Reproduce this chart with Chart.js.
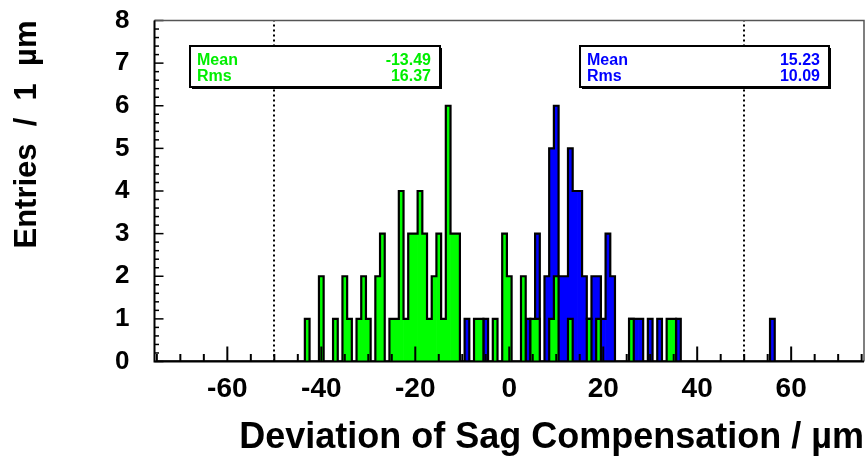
<!DOCTYPE html>
<html>
<head>
<meta charset="utf-8">
<script src="https://cdn.jsdelivr.net/npm/chart.js@4.4.1/dist/chart.umd.min.js"></script>
<style>
  body { margin: 0; background: #fff; }
  canvas { display: block; }
</style>
</head>
<body>
<canvas id="sagChart" width="867" height="466"></canvas>
<script>
// bins are 1 um wide, centred on integers
const binFirst = -75;
const binLast = 75;

const greenBins = [-43, -40, -37, -35, -34, -32, -31, -30, -28, -27, -25, -24, -23, -22, -21,
    -20, -19, -18, -17, -16, -15, -14, -13, -12, -11, -7, -6, -3, -1, 0, 3, 5, 6, 9, 10, 13, 17, 19, 26, 34, 35];
const greenCounts = [1, 2, 1, 2, 1, 1, 2, 1, 2, 3, 1, 1, 4, 1, 3,
    3, 4, 3, 1, 2, 3, 1, 6, 3, 3, 1, 1, 1, 3, 2, 2, 1, 1, 1, 2, 1, 1, 1, 1, 1, 1];

const blueBins = [-9, -5, 4, 6, 8, 9, 10, 11, 12, 13, 14, 15, 16, 17, 18, 19, 20, 21, 22, 26, 27, 28, 30, 32, 36, 56];
const blueCounts = [1, 1, 1, 3, 2, 5, 6, 2, 2, 5, 4, 4, 2, 1, 2, 2, 1, 3, 2, 1, 1, 1, 1, 1, 1, 1];

const xTickValues = [-60, -40, -20, 0, 20, 40, 60];
const cutValues = [-50, 50];

const greenStats = { Mean: '-13.49', Rms: '16.37' };
const blueStats = { Mean: '15.23', Rms: '10.09' };

const fontFamily = "'Liberation Sans', Arial, Helvetica, sans-serif";

function barPoints(bins, counts) {
    return bins.map((b, i) => ({ x: b, y: counts[i] }));
}

// every bin, zeros included, for the step outline
function stepPoints(bins, counts) {
    const pts = [];
    for (let b = binFirst; b <= binLast; b++) {
        const i = bins.indexOf(b);
        pts.push({ x: b, y: i >= 0 ? counts[i] : 0 });
    }
    return pts;
}

function drawStatsBox(ctx, x, y, w, h, color, stats) {
    ctx.save();
    ctx.fillStyle = '#000';
    ctx.fillRect(x + 2, y + 2, w, h);
    ctx.fillStyle = '#fff';
    ctx.fillRect(x, y, w, h);
    ctx.strokeStyle = '#000';
    ctx.lineWidth = 2;
    ctx.strokeRect(x, y, w, h);
    ctx.fillStyle = color;
    ctx.font = 'bold 16px ' + fontFamily;
    ctx.textBaseline = 'alphabetic';
    let row = 0;
    for (const key of Object.keys(stats)) {
        const by = y + 19 + row * 16;
        ctx.textAlign = 'left';
        ctx.fillText(key, x + 7, by);
        ctx.textAlign = 'right';
        ctx.fillText(stats[key], x + w - 9, by);
        row++;
    }
    ctx.restore();
}

const rootFrame = {
    id: 'rootFrame',
    afterDatasetsDraw(chart) {
        const ctx = chart.ctx;
        const xs = chart.scales.x;
        const ys = chart.scales.y;
        const { left, right, top, bottom } = chart.chartArea;

        ctx.save();
        // dotted cut lines
        ctx.strokeStyle = '#000';
        ctx.lineWidth = 2;
        ctx.setLineDash([2, 3]);
        cutValues.forEach(v => {
            const px = Math.round(xs.getPixelForValue(v));
            ctx.beginPath();
            ctx.moveTo(px, bottom);
            ctx.lineTo(px, top);
            ctx.stroke();
        });
        ctx.setLineDash([]);

        // ticks pointing into the frame
        ctx.lineWidth = 2;
        for (let v = -75; v <= 75; v += 5) {
            const px = xs.getPixelForValue(v);
            const len = v % 20 === 0 ? 15 : 7.5;
            ctx.beginPath();
            ctx.moveTo(px, bottom);
            ctx.lineTo(px, bottom - len);
            ctx.stroke();
        }
        ctx.lineWidth = 1.5;
        for (let k = 0; k <= 40; k++) {
            const py = ys.getPixelForValue(k / 5);
            const len = k % 5 === 0 ? 9 : 4.5;
            ctx.beginPath();
            ctx.moveTo(left, py);
            ctx.lineTo(left + len, py);
            ctx.stroke();
        }

        // frame
        ctx.strokeStyle = '#555';
        ctx.lineWidth = 1.5;
        ctx.beginPath();
        ctx.moveTo(left, top);
        ctx.lineTo(right, top);
        ctx.lineTo(right, bottom);
        ctx.stroke();
        ctx.strokeStyle = '#000';
        ctx.lineWidth = 2;
        ctx.beginPath();
        ctx.moveTo(left, top);
        ctx.lineTo(left, bottom);
        ctx.lineTo(right, bottom);
        ctx.stroke();
        ctx.restore();

        drawStatsBox(ctx, 190, 46, 250, 41, '#00ee00', greenStats);
        drawStatsBox(ctx, 580, 46, 249, 41, '#0000ff', blueStats);
    }
};

function noPad(s) {
    s.paddingTop = 0;
    s.paddingBottom = 0;
    s.paddingLeft = 0;
    s.paddingRight = 0;
}

const ctx = document.getElementById('sagChart').getContext('2d');
new Chart(ctx, {
    type: 'bar',
    data: {
        datasets: [
            {
                type: 'line',
                data: stepPoints(greenBins, greenCounts),
                stepped: 'middle',
                borderColor: '#000',
                borderWidth: 2.2,
                pointRadius: 0,
                fill: false,
                order: 0
            },
            {
                data: barPoints(greenBins, greenCounts),
                backgroundColor: '#00ff00',
                borderWidth: 0,
                barPercentage: 1,
                categoryPercentage: 1,
                grouped: false,
                order: 1
            },
            {
                type: 'line',
                data: stepPoints(blueBins, blueCounts),
                stepped: 'middle',
                borderColor: '#000',
                borderWidth: 2.2,
                pointRadius: 0,
                fill: false,
                order: 2
            },
            {
                data: barPoints(blueBins, blueCounts),
                backgroundColor: '#0000ff',
                borderWidth: 0,
                barPercentage: 1,
                categoryPercentage: 1,
                grouped: false,
                order: 3
            }
        ]
    },
    options: {
        responsive: false,
        animation: false,
        layout: { padding: { top: 20.5, right: 3, left: 0, bottom: 0 } },
        plugins: { legend: { display: false }, tooltip: { enabled: false } },
        scales: {
            x: {
                type: 'linear',
                min: binFirst - 0.5,
                max: binLast + 0.5,
                offset: false,
                grid: { display: false, drawTicks: false },
                border: { display: false },
                afterBuildTicks: s => { s.ticks = xTickValues.map(v => ({ value: v })); },
                afterFit: s => { s.height = 104.5; noPad(s); },
                ticks: {
                    autoSkip: false,
                    maxRotation: 0,
                    padding: 11,
                    color: '#000',
                    font: { family: fontFamily, weight: 'bold', size: 28 }
                },
                title: {
                    display: true,
                    text: 'Deviation of Sag Compensation / \u00b5m',
                    align: 'end',
                    color: '#000',
                    padding: { top: 0, bottom: 6 },
                    font: { family: fontFamily, weight: 'bold', size: 36 }
                }
            },
            y: {
                min: 0,
                max: 8,
                grid: { display: false, drawTicks: false },
                border: { display: false },
                afterFit: s => { s.width = 154.5; noPad(s); },
                ticks: {
                    stepSize: 1,
                    padding: 25,
                    color: '#000',
                    font: { family: fontFamily, weight: 'bold', size: 26 }
                },
                title: {
                    display: true,
                    text: 'Entries  /  1  \u00b5m',
                    align: 'end',
                    color: '#000',
                    padding: { top: 9, bottom: 0 },
                    font: { family: fontFamily, weight: 'bold', size: 31 }
                }
            }
        }
    },
    plugins: [rootFrame]
});
</script>
</body>
</html>
